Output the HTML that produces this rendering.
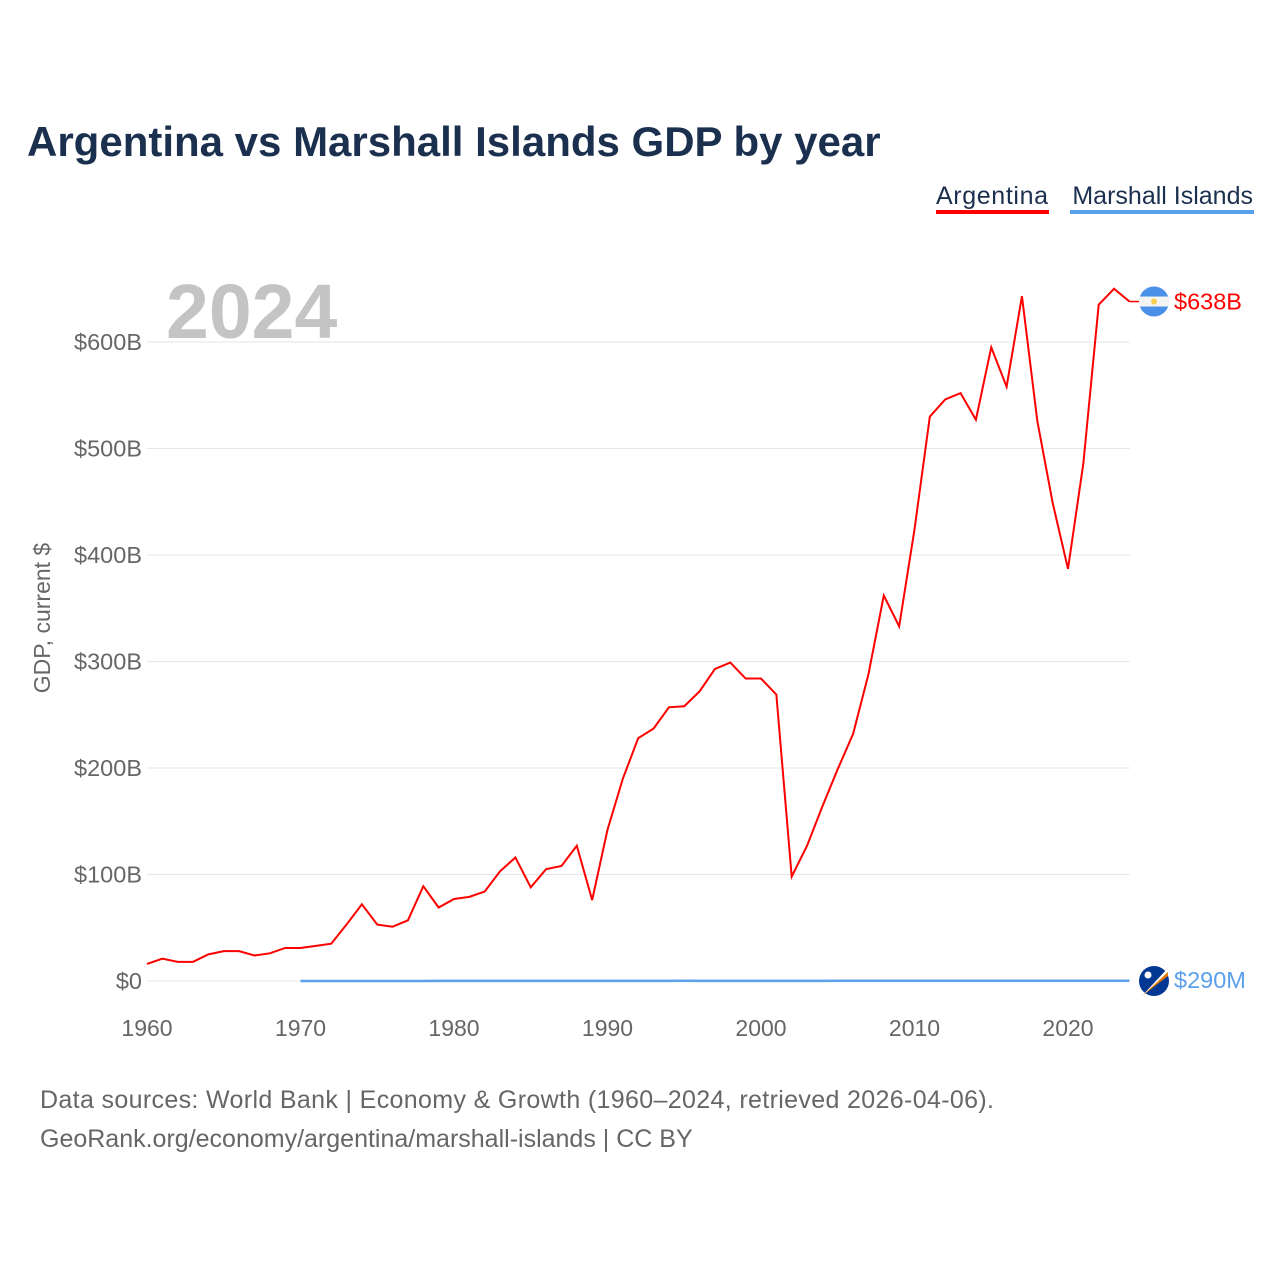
<!DOCTYPE html>
<html><head><meta charset="utf-8">
<style>
body{margin:0;background:#fff;font-family:"Liberation Sans",sans-serif;}
#wrap{position:relative;width:1280px;height:1280px;overflow:hidden;}
</style></head>
<body>
<div id="wrap">
<svg id="chart" width="1280" height="1280">
<text x="27" y="156" font-size="42" font-weight="bold" fill="#1b2f4e">Argentina vs Marshall Islands GDP by year</text>
<g>
<text x="936" y="204" font-size="25" fill="#1b2f4e" textLength="112">Argentina</text>
<rect x="936" y="210" width="113" height="4" fill="#ff0000"/>
<text x="1253" y="204" font-size="25" fill="#1b2f4e" text-anchor="end">Marshall Islands</text>
<rect x="1070" y="210" width="184" height="4" fill="#5aa0ea"/>
</g>
<text x="166" y="338" font-size="77" font-weight="bold" fill="#c4c4c4">2024</text>
<text transform="translate(50,618) rotate(-90)" font-size="23" fill="#666" text-anchor="middle">GDP, current $</text>
<g id="grid"></g><g id="yticks"></g><g id="xticks"></g><g id="series"></g>
<text x="40" y="1108" font-size="25" fill="#666" textLength="954">Data sources: World Bank | Economy &amp; Growth (1960–2024, retrieved 2026-04-06).</text>
<text x="40" y="1147" font-size="25" fill="#666">GeoRank.org/economy/argentina/marshall-islands | CC BY</text>
</svg>
</div>
<script>
const years=[];for(let y=1960;y<=2024;y++)years.push(y);
const argentina=[16,21,18,18,25,28,28,24,26,31,31,33,35,53,72,53,51,57,89,69,77,79,84,103,116,88,105,108,127,76,142,190,228,237,257,258,272,293,299,284,284,269,98,127,164,199,232,288,362,333,424,530,546,552,527,595,558,643,526,449,387,486,635,650,638];
const marshallYears=[];for(let y=1970;y<=2024;y++)marshallYears.push(y);
const marshall=[0.03,0.03,0.03,0.04,0.04,0.04,0.05,0.05,0.05,0.06,0.06,0.07,0.07,0.08,0.08,0.09,0.1,0.1,0.11,0.12,0.13,0.14,0.15,0.16,0.17,0.18,0.17,0.16,0.16,0.15,0.16,0.16,0.17,0.17,0.17,0.18,0.19,0.19,0.2,0.2,0.2,0.2,0.21,0.21,0.22,0.23,0.23,0.23,0.24,0.24,0.24,0.26,0.27,0.28,0.29];
const yTicks=[0,100,200,300,400,500,600];
const yTickLabels=["$0","$100B","$200B","$300B","$400B","$500B","$600B"];
const xTicks=[1960,1970,1980,1990,2000,2010,2020];
const NS="http://www.w3.org/2000/svg";
const xS=y=>147+(y-1960)*15.35;
const yS=v=>981-v*1.065;
function mk(tag,attrs,parent){const e=document.createElementNS(NS,tag);for(const k in attrs)e.setAttribute(k,attrs[k]);document.getElementById(parent).appendChild(e);return e;}
yTicks.forEach((t,i)=>{
 const l=mk('line',{x1:147,x2:1130,y1:yS(t),y2:yS(t),stroke:'#e6e6e6','stroke-width':1},'grid');
 
 
 const tx=mk('text',{x:142,y:yS(t)+8,'font-size':23.5,fill:'#666','text-anchor':'end'},'yticks');
 tx.textContent=yTickLabels[i];
 
 
});
xTicks.forEach(t=>{
 const tx=mk('text',{x:xS(t),y:1036,'font-size':23,fill:'#666','text-anchor':'middle'},'xticks');
 tx.textContent=t;
 
 
});
const ml=mk('polyline',{points:marshallYears.map((y,i)=>xS(y)+','+yS(marshall[i])).join(' '),fill:'none',stroke:'#5aa0ea','stroke-width':2.5},'series');


const al=mk('polyline',{points:years.map((y,i)=>xS(y)+','+yS(argentina[i])).join(' '),fill:'none',stroke:'#ff0000','stroke-width':2},'series');


const aLast=argentina[argentina.length-1], mLast=marshall[marshall.length-1];
const lx=xS(2024);
const c1=mk('line',{x1:lx,x2:lx+12,y1:yS(aLast),y2:yS(aLast),stroke:'#ff0000','stroke-width':1.5},'series');


const f1=mk('circle',{cx:1154,cy:yS(aLast),r:15,fill:'#4a90e8'},'series');


const f1b=mk('rect',{x:1139,y:yS(aLast)-5,width:30,height:10,fill:'#f4f4f4'},'series');


const f1s=mk('circle',{cx:1154,cy:yS(aLast),r:3,fill:'#f6d04e'},'series');


const t1=mk('text',{x:1174,y:yS(aLast)+8,'font-size':23.5,fill:'#ff0000'},'series');
t1.textContent='$'+aLast+'B';


const f2=mk('circle',{cx:1154,cy:981,r:15,fill:'#003893'},'series');


const f2s=mk('path',{d:'M1142 996 L1168 968 L1168 976 Z',fill:'#dd7500'},'series');


const f2w=mk('path',{d:'M1142 996 L1168 968 L1168 972 Z',fill:'#fff'},'series');


const f2t=mk('circle',{cx:1148,cy:975,r:3.5,fill:'#fff'},'series');


const t2=mk('text',{x:1174,y:988,'font-size':23.5,fill:'#5aa0ea'},'series');
t2.textContent='$'+Math.round(mLast*1000)+'M';


</script>
</body></html>
